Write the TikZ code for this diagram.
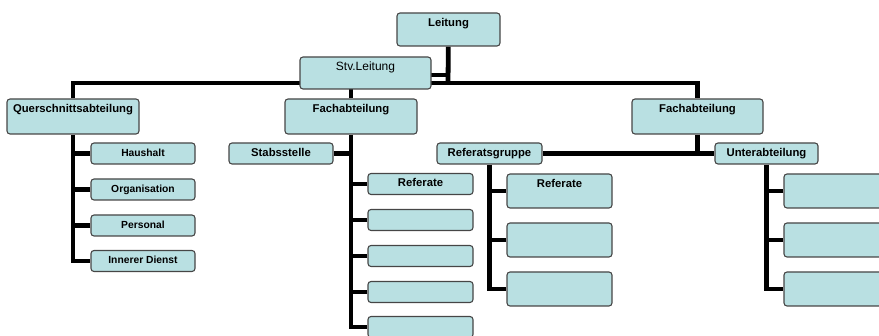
\documentclass[tikz,border=0pt]{standalone}
\usepackage{fontspec}
\setsansfont{Liberation Sans}
\usetikzlibrary{backgrounds}
\definecolor{boxfill}{RGB}{185,224,226}
\definecolor{boxline}{RGB}{70,70,70}
\tikzset{every picture/.style={/utils/exec={\sffamily}}}
\tikzset{unit/.style={draw=boxline,fill=boxfill,line width=1.1pt,rounded corners=3pt,inner sep=0pt,font=\fontsize{11.3}{13}\selectfont\bfseries}}
\tikzset{tallunit/.style={unit,text height=14pt,text depth=#1}}
\tikzset{flatunit/.style={unit,minimum height=21pt,text height=8pt,text depth=2pt}}
\tikzset{small/.style={font=\fontsize{10.3}{12}\selectfont\bfseries}}
\tikzset{link/.style={line width=4.8pt}}

\begin{document}
\begin{tikzpicture}[x=1pt,y=-1pt]
    \useasboundingbox (0,0) rectangle (879,336);
    \node (lead) at (448.5,29.5) [tallunit=19pt,minimum width=103pt] {Leitung};
    \node (stv) at (365.5,73) [tallunit=18pt,minimum width=131pt,font=\fontsize{12}{14}\selectfont] {Stv.Leitung};
    \node (quer) at (73,116.5) [tallunit=21pt,minimum width=132pt] {Querschnittsabteilung};
    \node (fachA) at (351,116.5) [tallunit=21pt,minimum width=132pt] {Fachabteilung};
    \node (fachB) at (697.5,116.5) [tallunit=21pt,minimum width=131pt] {Fachabteilung};
    \node (hh) at (143,153.5) [flatunit,small,minimum width=104pt] {Haushalt};
    \node (org) at (143,189.5) [flatunit,small,minimum width=104pt] {Organisation};
    \node (pers) at (143,225.5) [flatunit,small,minimum width=104pt] {Personal};
    \node (innd) at (143,261) [flatunit,small,minimum width=104pt] {Innerer Dienst};
    \node (stab) at (281,153.5) [flatunit,minimum width=104pt] {Stabsstelle};
    \node (refA) at (420.5,184) [flatunit,minimum width=105pt] {Referate};
    \node (refB) at (420.5,220) [flatunit,minimum width=105pt] {};
    \node (refC) at (420.5,256) [flatunit,minimum width=105pt] {};
    \node (refD) at (420.5,292) [flatunit,minimum width=105pt] {};
    \node (refE) at (420.5,327) [flatunit,minimum width=105pt] {};
    \node (rg) at (489.5,153.5) [flatunit,minimum width=105pt] {Referatsgruppe};
    \node (ua) at (766.5,153.5) [flatunit,minimum width=103pt] {Unterabteilung};
    \node (rgA) at (559.5,191) [tallunit=20pt,minimum width=105pt] {Referate};
    \node (rgB) at (559.5,240) [tallunit=20pt,minimum width=105pt] {};
    \node (rgC) at (559.5,289) [tallunit=20pt,minimum width=105pt] {};
    \node (uaA) at (836.5,191) [tallunit=20pt,minimum width=105pt] {};
    \node (uaB) at (836.5,240) [tallunit=20pt,minimum width=105pt] {};
    \node (uaC) at (836.5,289) [tallunit=20pt,minimum width=105pt] {};
    \coordinate (bar) at (448,83);
    \coordinate (stvlink) at (431,75);
    \begin{scope}[on background layer]
        \draw[link] (lead) -- (bar);
        \draw[link] (stvlink) -- (stvlink -| lead.south);
        \draw[link] (quer.north) -- (quer.north |- bar) -- (fachB.north |- bar) -- (fachB.north);
        \draw[link] (fachA.north) -- (fachA.north |- bar);
        \draw[link] (quer.south) -- (quer.south |- innd.west) -- (innd.west);
        \foreach \n in {hh,org,pers}
            \draw[link] (\n.west) -- (\n.west -| quer.south);
        \draw[link] (fachA.south) -- (fachA.south |- refE.west) -- (refE.west);
        \draw[link] (stab.east) -- (stab.east -| fachA.south);
        \foreach \n in {refA,refB,refC,refD}
            \draw[link] (\n.west) -- (\n.west -| fachA.south);
        \draw[link] (fachB.south) -- (fachB.south |- rg.east);
        \draw[link] (rg.east) -- (ua.west);
        \draw[link] (rg.south) -- (rg.south |- rgC.west) -- (rgC.west);
        \foreach \n in {rgA,rgB}
            \draw[link] (\n.west) -- (\n.west -| rg.south);
        \draw[link] (ua.south) -- (ua.south |- uaC.west) -- (uaC.west);
        \foreach \n in {uaA,uaB}
            \draw[link] (\n.west) -- (\n.west -| ua.south);
    \end{scope}
\end{tikzpicture}
\end{document}
